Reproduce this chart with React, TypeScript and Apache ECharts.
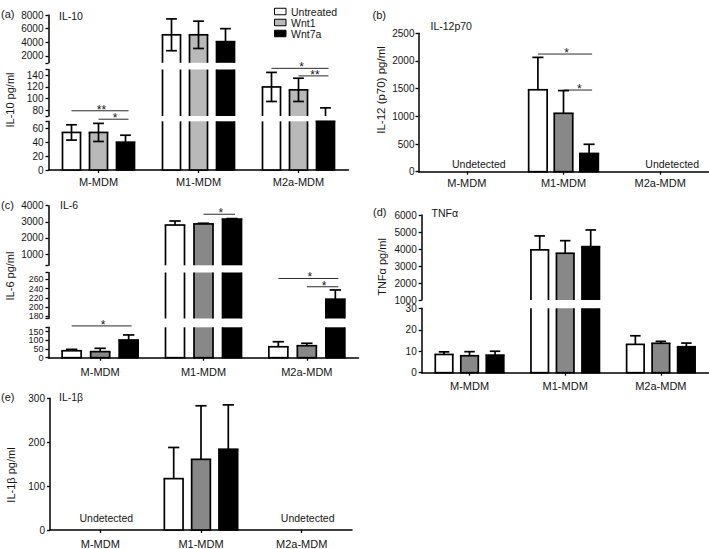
import React, { useEffect, useRef } from "react";
import * as echarts from "echarts";

// ---------- data ----------
const categories = ["M-MDM", "M1-MDM", "M2a-MDM"];
const treatments = ["Untreated", "Wnt1", "Wnt7a"];

// rows = treatments (Untreated, Wnt1, Wnt7a), columns = categories
// (a) IL-10 pg/ml (mean, SD)
const il10Mean = [[54, 5100, 120], [54, 5100, 115], [40, 4100, 70]];
const il10Err = [[11, 2330, 25], [13, 2000, 20], [10, 1900, 14]];
const il10TopTicks = [2000, 4000, 6000, 8000];
const il10MidTicks = [80, 100, 120, 140];
const il10LowTicks = [0, 20, 40, 60];

// (b) IL-12 (p70) pg/ml
const il12Mean = [[null, 1480, null], [null, 1055, null], [null, 330, null]];
const il12Err = [[null, 585, null], [null, 410, null], [null, 165, null]];
const il12Ticks = [0, 500, 1000, 1500, 2000, 2500];

// (c) IL-6 pg/ml
const il6Mean = [[40, 2800, 63], [35, 2870, 69], [102, 3170, 217]];
const il6Err = [[8, 250, 29], [19, 40, 14], [29, 30, 20]];
const il6TopTicks = [1000, 2000, 3000, 4000];
const il6MidTicks = [180, 200, 220, 240, 260];
const il6LowTicks = [0, 50, 100, 150];

// (d) TNFα pg/ml
const tnfMean = [[8.5, 3950, 13.2], [7.9, 3750, 13.7], [8.2, 4140, 12.1]];
const tnfErr = [[1.2, 820, 4], [1.9, 740, 0.9], [1.8, 980, 1.7]];
const tnfTopTicks = [1000, 2000, 3000, 4000, 5000, 6000];
const tnfLowTicks = [0, 10, 20, 30];

// (e) IL-1β pg/ml
const il1bMean = [[null, 117, null], [null, 161, null], [null, 184, null]];
const il1bErr = [[null, 71, null], [null, 122, null], [null, 101, null]];
const il1bTicks = [0, 100, 200, 300];

// significance brackets: axis segment, category, from bar, to bar, level (data value), label
const il10Sig = [
  { seg: 1, cat: 0, from: 0, to: 2, level: 79, label: "**" },
  { seg: 2, cat: 0, from: 1, to: 2, level: 73, label: "*" },
  { seg: 1, cat: 2, from: 0, to: 2, level: 152, label: "*" },
  { seg: 1, cat: 2, from: 1, to: 2, level: 139, label: "**" },
];
const il12Sig = [
  { seg: 0, cat: 1, from: 0, to: 2, level: 2125, label: "*" },
  { seg: 0, cat: 1, from: 1, to: 2, level: 1475, label: "*" },
];
const il6Sig = [
  { seg: 2, cat: 0, from: 0, to: 2, level: 183, label: "*" },
  { seg: 0, cat: 1, from: 1, to: 2, level: 3470, label: "*" },
  { seg: 1, cat: 2, from: 0, to: 2, level: 262, label: "*" },
  { seg: 1, cat: 2, from: 1, to: 2, level: 244, label: "*" },
];

// ---------- styles / layout ----------
const FONT = "'Liberation Sans', Arial, Helvetica, sans-serif";
const TEXT = "#151515";
const LIGHT_GRAY = "#b9b9b9";
const DARK_GRAY = "#888888";

type Seg = { min: number; max: number; top: number; bottom: number; labels: number[]; caps: number[]; fs?: number; grid?: number };
type Panel = {
  left: number; width: number; bw: number; step: number; twoSided: boolean; gray: string;
  xMargin: number; yMargin: number; segs: Seg[];
  mean: (number | null)[][]; err: (number | null)[][];
  sig: { seg: number; cat: number; from: number; to: number; level: number; label: string }[];
  letter: string; letterPos: [number, number]; title: string; titlePos: [number, number];
  yName: string; yNamePos: [number, number]; yNameSize: number; undet: [number, number];
};

const panels: Panel[] = [
  {
    left: 48.5, width: 300, bw: 18, step: 27, twoSided: true, gray: LIGHT_GRAY, xMargin: 6, yMargin: 5,
    segs: [
      { min: 1000, max: 8000, top: 15, bottom: 62.8, labels: il10TopTicks, caps: [1000] },
      { min: 70, max: 150, top: 69.5, bottom: 116, labels: il10MidTicks, caps: [70, 150] },
      { min: 0, max: 70, top: 121.3, bottom: 170, labels: il10LowTicks, caps: [70] },
    ],
    mean: il10Mean, err: il10Err, sig: il10Sig,
    letter: "(a)", letterPos: [1, 13.5], title: "IL-10", titlePos: [59, 15.7],
    yName: "IL-10 pg/ml", yNamePos: [9.5, 100], yNameSize: 11, undet: [0, 0],
  },
  {
    left: 418.5, width: 290, bw: 18.5, step: 25.6, twoSided: false, gray: DARK_GRAY, xMargin: 6, yMargin: 4,
    segs: [{ min: 0, max: 2500, top: 33.3, bottom: 171.7, labels: il12Ticks, caps: [] }],
    mean: il12Mean, err: il12Err, sig: il12Sig,
    letter: "(b)", letterPos: [372.5, 15], title: "IL-12p70", titlePos: [430.5, 26],
    yName: "IL-12 (p70) pg/ml", yNamePos: [381, 90], yNameSize: 11.5, undet: [12, -8],
  },
  {
    left: 48.5, width: 310, bw: 19, step: 28.5, twoSided: false, gray: DARK_GRAY, xMargin: 9, yMargin: 5,
    segs: [
      { min: 300, max: 4000, top: 205.7, bottom: 265.3, labels: il6TopTicks, caps: [300] },
      { min: 175, max: 275, top: 272.5, bottom: 318.5, labels: il6MidTicks, caps: [175, 275], fs: 8.8 },
      { min: 0, max: 175, top: 327.3, bottom: 357.7, labels: il6LowTicks, caps: [175], fs: 9 },
    ],
    mean: il6Mean, err: il6Err, sig: il6Sig,
    letter: "(c)", letterPos: [1, 205], title: "IL-6", titlePos: [60, 205],
    yName: "IL-6 pg/ml", yNamePos: [9.5, 276], yNameSize: 11, undet: [0, 0],
  },
  {
    left: 421.7, width: 287, bw: 17.5, step: 25.5, twoSided: false, gray: DARK_GRAY, xMargin: 8, yMargin: 5,
    segs: [
      { min: 1000, max: 6000, top: 215, bottom: 300, labels: tnfTopTicks, caps: [] },
      { min: 0, max: 30, top: 308.3, bottom: 372.7, labels: tnfLowTicks, caps: [] },
    ],
    mean: tnfMean, err: tnfErr, sig: [],
    letter: "(d)", letterPos: [373, 211.7], title: "TNFα", titlePos: [431.5, 213.3],
    yName: "TNFα pg/ml", yNamePos: [382, 267], yNameSize: 11, undet: [0, 0],
  },
  {
    left: 50, width: 302, bw: 18.7, step: 27.3, twoSided: false, gray: DARK_GRAY, xMargin: 8, yMargin: 5,
    segs: [{ min: 0, max: 300, top: 398.3, bottom: 530, labels: il1bTicks, caps: [] }],
    mean: il1bMean, err: il1bErr, sig: [],
    letter: "(e)", letterPos: [1, 396.7], title: "IL-1β", titlePos: [59, 396.7],
    yName: "IL-1β pg/ml", yNamePos: [10.5, 475], yNameSize: 11, undet: [6, -12],
  },
];

function fillFor(p: Panel, ti: number) {
  return ti === 0 ? "#ffffff" : ti === 1 ? p.gray : "#000000";
}

// Bars and error bars are cut at the segment (grid) edges, leaving open ends like a broken axis.
function makeRender(p: Panel, ti: number) {
  return (params: any, api: any) => {
    const cat = api.value(0);
    const mean = api.value(1);
    const err = api.value(2);
    if (isNaN(mean)) return null;
    const cs = params.coordSys;
    const gTop = cs.y;
    const gBot = cs.y + cs.height;
    const base = api.coord([cat, 0]);
    const top = api.coord([cat, mean]);
    const cx = base[0] + (ti - 1) * p.step;
    const xl = cx - p.bw / 2;
    const xr = cx + p.bw / 2;
    const yErrTop = api.coord([cat, mean + err])[1];
    const yErrBot = p.twoSided ? api.coord([cat, mean - err])[1] : top[1];
    const cap = p.bw * 0.6;
    const ls = { stroke: "#000", lineWidth: 1.7 };
    const children: any[] = [];
    const vTop = Math.max(top[1], gTop);
    const vBot = Math.min(base[1], gBot);
    if (vBot - vTop > 0.2) {
      children.push({ type: "rect", shape: { x: xl, y: vTop, width: p.bw, height: vBot - vTop }, style: { fill: fillFor(p, ti) } });
      children.push({ type: "line", shape: { x1: xl, y1: vTop, x2: xl, y2: vBot }, style: ls });
      children.push({ type: "line", shape: { x1: xr, y1: vTop, x2: xr, y2: vBot }, style: ls });
      if (top[1] >= gTop - 0.3) children.push({ type: "line", shape: { x1: xl - 0.85, y1: top[1], x2: xr + 0.85, y2: top[1] }, style: ls });
      if (base[1] <= gBot + 0.3) children.push({ type: "line", shape: { x1: xl - 0.85, y1: base[1], x2: xr + 0.85, y2: base[1] }, style: ls });
    }
    const eTop = Math.max(yErrTop, gTop);
    const eBot = Math.min(yErrBot, gBot);
    if (eBot - eTop > 0.2) {
      children.push({ type: "line", shape: { x1: cx, y1: eTop, x2: cx, y2: eBot }, style: ls });
    }
    if (yErrTop >= gTop - 0.3 && yErrTop <= gBot + 0.3) {
      children.push({ type: "line", shape: { x1: cx - cap / 2, y1: yErrTop, x2: cx + cap / 2, y2: yErrTop }, style: ls });
    }
    if (p.twoSided && yErrBot >= gTop - 0.3 && yErrBot <= gBot + 0.3) {
      children.push({ type: "line", shape: { x1: cx - cap / 2, y1: yErrBot, x2: cx + cap / 2, y2: yErrBot }, style: ls });
    }
    return { type: "group", children };
  };
}

function yLabelStyle(p: Panel, values: number[], fs: number) {
  return {
    show: values.length > 0,
    customValues: values, fontSize: fs, color: TEXT, margin: p.yMargin, fontFamily: FONT,
    hideOverlap: false, showMinLabel: true, showMaxLabel: true,
    formatter: (v: number) => String(v),
  };
}

function buildOption() {
  const grid: any[] = [];
  const xAxis: any[] = [];
  const yAxis: any[] = [];
  const series: any[] = [];
  panels.forEach((p) => {
    p.segs.forEach((s, si) => {
      const g = grid.length;
      s.grid = g;
      const isLast = si === p.segs.length - 1;
      const fs = s.fs ?? 10;
      grid.push({ left: p.left, top: s.top, width: p.width, height: s.bottom - s.top, outerBoundsMode: "none", containLabel: false });
      xAxis.push({
        type: "category", gridIndex: g, data: categories, show: isLast,
        axisLine: { show: true, lineStyle: { color: "#000", width: 1.5 } },
        axisTick: { show: true, alignWithLabel: true, length: 3, lineStyle: { color: "#000", width: 1.3 } },
        axisLabel: { fontSize: 11, color: TEXT, margin: p.xMargin, fontFamily: FONT, interval: 0, hideOverlap: false },
        splitLine: { show: false },
      });
      // tick labels are split over two coincident axes so that closely packed labels all stay visible
      const even = s.labels.filter((_, i) => i % 2 === 0);
      const odd = s.labels.filter((_, i) => i % 2 === 1);
      const yi = yAxis.length;
      yAxis.push({
        type: "value", gridIndex: g, min: s.min, max: s.max,
        axisLine: { show: true, lineStyle: { color: "#000", width: 1.5 } },
        axisTick: { show: true, length: 3, customValues: [...s.labels, ...s.caps], lineStyle: { color: "#000", width: 1.3 } },
        axisLabel: yLabelStyle(p, even, fs),
        splitLine: { show: false },
      });
      yAxis.push({
        type: "value", gridIndex: g, min: s.min, max: s.max, position: "left", offset: 0,
        axisLine: { show: false }, axisTick: { show: false },
        axisLabel: yLabelStyle(p, odd, fs),
        splitLine: { show: false },
      });
      treatments.forEach((name, ti) => {
        series.push({
          type: "custom", name, xAxisIndex: g, yAxisIndex: yi, clip: false, silent: true,
          itemStyle: { color: fillFor(p, ti), borderColor: "#000", borderWidth: 1 },
          encode: { x: 0, y: 1 },
          renderItem: makeRender(p, ti),
          data: categories
            .map((_, ci) => [ci, p.mean[ti][ci], p.err[ti][ci]])
            .filter((d) => d[1] !== null),
        });
      });
    });
  });
  return {
    animation: false,
    backgroundColor: "#ffffff",
    textStyle: { fontFamily: FONT },
    legend: {
      show: true, orient: "vertical", left: 269, top: 1, itemWidth: 11.5, itemHeight: 6.5, itemGap: 0,
      selectedMode: false, icon: "rect",
      textStyle: { fontSize: 10.5, lineHeight: 9.3, color: TEXT, fontFamily: FONT },
      data: treatments.map((n, i) => ({
        name: n,
        itemStyle: { color: i === 0 ? "#ffffff" : i === 1 ? LIGHT_GRAY : "#000000", borderColor: "#000", borderWidth: 1 },
      })),
    },
    grid, xAxis, yAxis, series,
  };
}

function buildGraphics(chart: any) {
  const els: any[] = [];
  const txt = (x: number, y: number, text: string, size: number, align = "left", extra: any = {}) => ({
    type: "text", x, y, silent: true, ...extra,
    style: { text, fill: TEXT, fontSize: size, fontFamily: FONT, align, verticalAlign: "middle" },
  });
  panels.forEach((p) => {
    els.push(txt(p.letterPos[0], p.letterPos[1], p.letter, 11));
    els.push(txt(p.titlePos[0], p.titlePos[1], p.title, 10.5));
    els.push(txt(p.yNamePos[0], p.yNamePos[1], p.yName, p.yNameSize, "center", { rotation: Math.PI / 2 }));
    p.sig.forEach((s) => {
      const g = p.segs[s.seg].grid;
      const pt = chart.convertToPixel({ gridIndex: g }, [s.cat, s.level]);
      const x1 = pt[0] + (s.from - 1) * p.step;
      const x2 = pt[0] + (s.to - 1) * p.step + 3;
      els.push({ type: "line", silent: true, shape: { x1, y1: pt[1], x2, y2: pt[1] }, style: { stroke: "#2a2a2a", lineWidth: 1 } });
      els.push(txt((x1 + x2) / 2 + 1.5, pt[1] - 1.2, s.label, 12, "center"));
    });
    const lastSeg = p.segs[p.segs.length - 1];
    categories.forEach((_, ci) => {
      if (p.mean[0][ci] === null) {
        const pt = chart.convertToPixel({ gridIndex: lastSeg.grid }, [ci, 0]);
        els.push(txt(pt[0] + p.undet[0], pt[1] + p.undet[1], "Undetected", 10.5, "center"));
      }
    });
  });
  return els;
}

export default function App() {
  const ref = useRef<HTMLDivElement>(null);
  useEffect(() => {
    const chart = echarts.init(ref.current!, null, { renderer: "svg" });
    chart.setOption(buildOption() as any);
    chart.setOption({ graphic: { elements: buildGraphics(chart) } } as any);
    return () => chart.dispose();
  }, []);
  return (
    <div
      ref={ref}
      style={{ position: "fixed", left: 0, top: 0, width: 709, height: 549, background: "#fff" }}
    />
  );
}
